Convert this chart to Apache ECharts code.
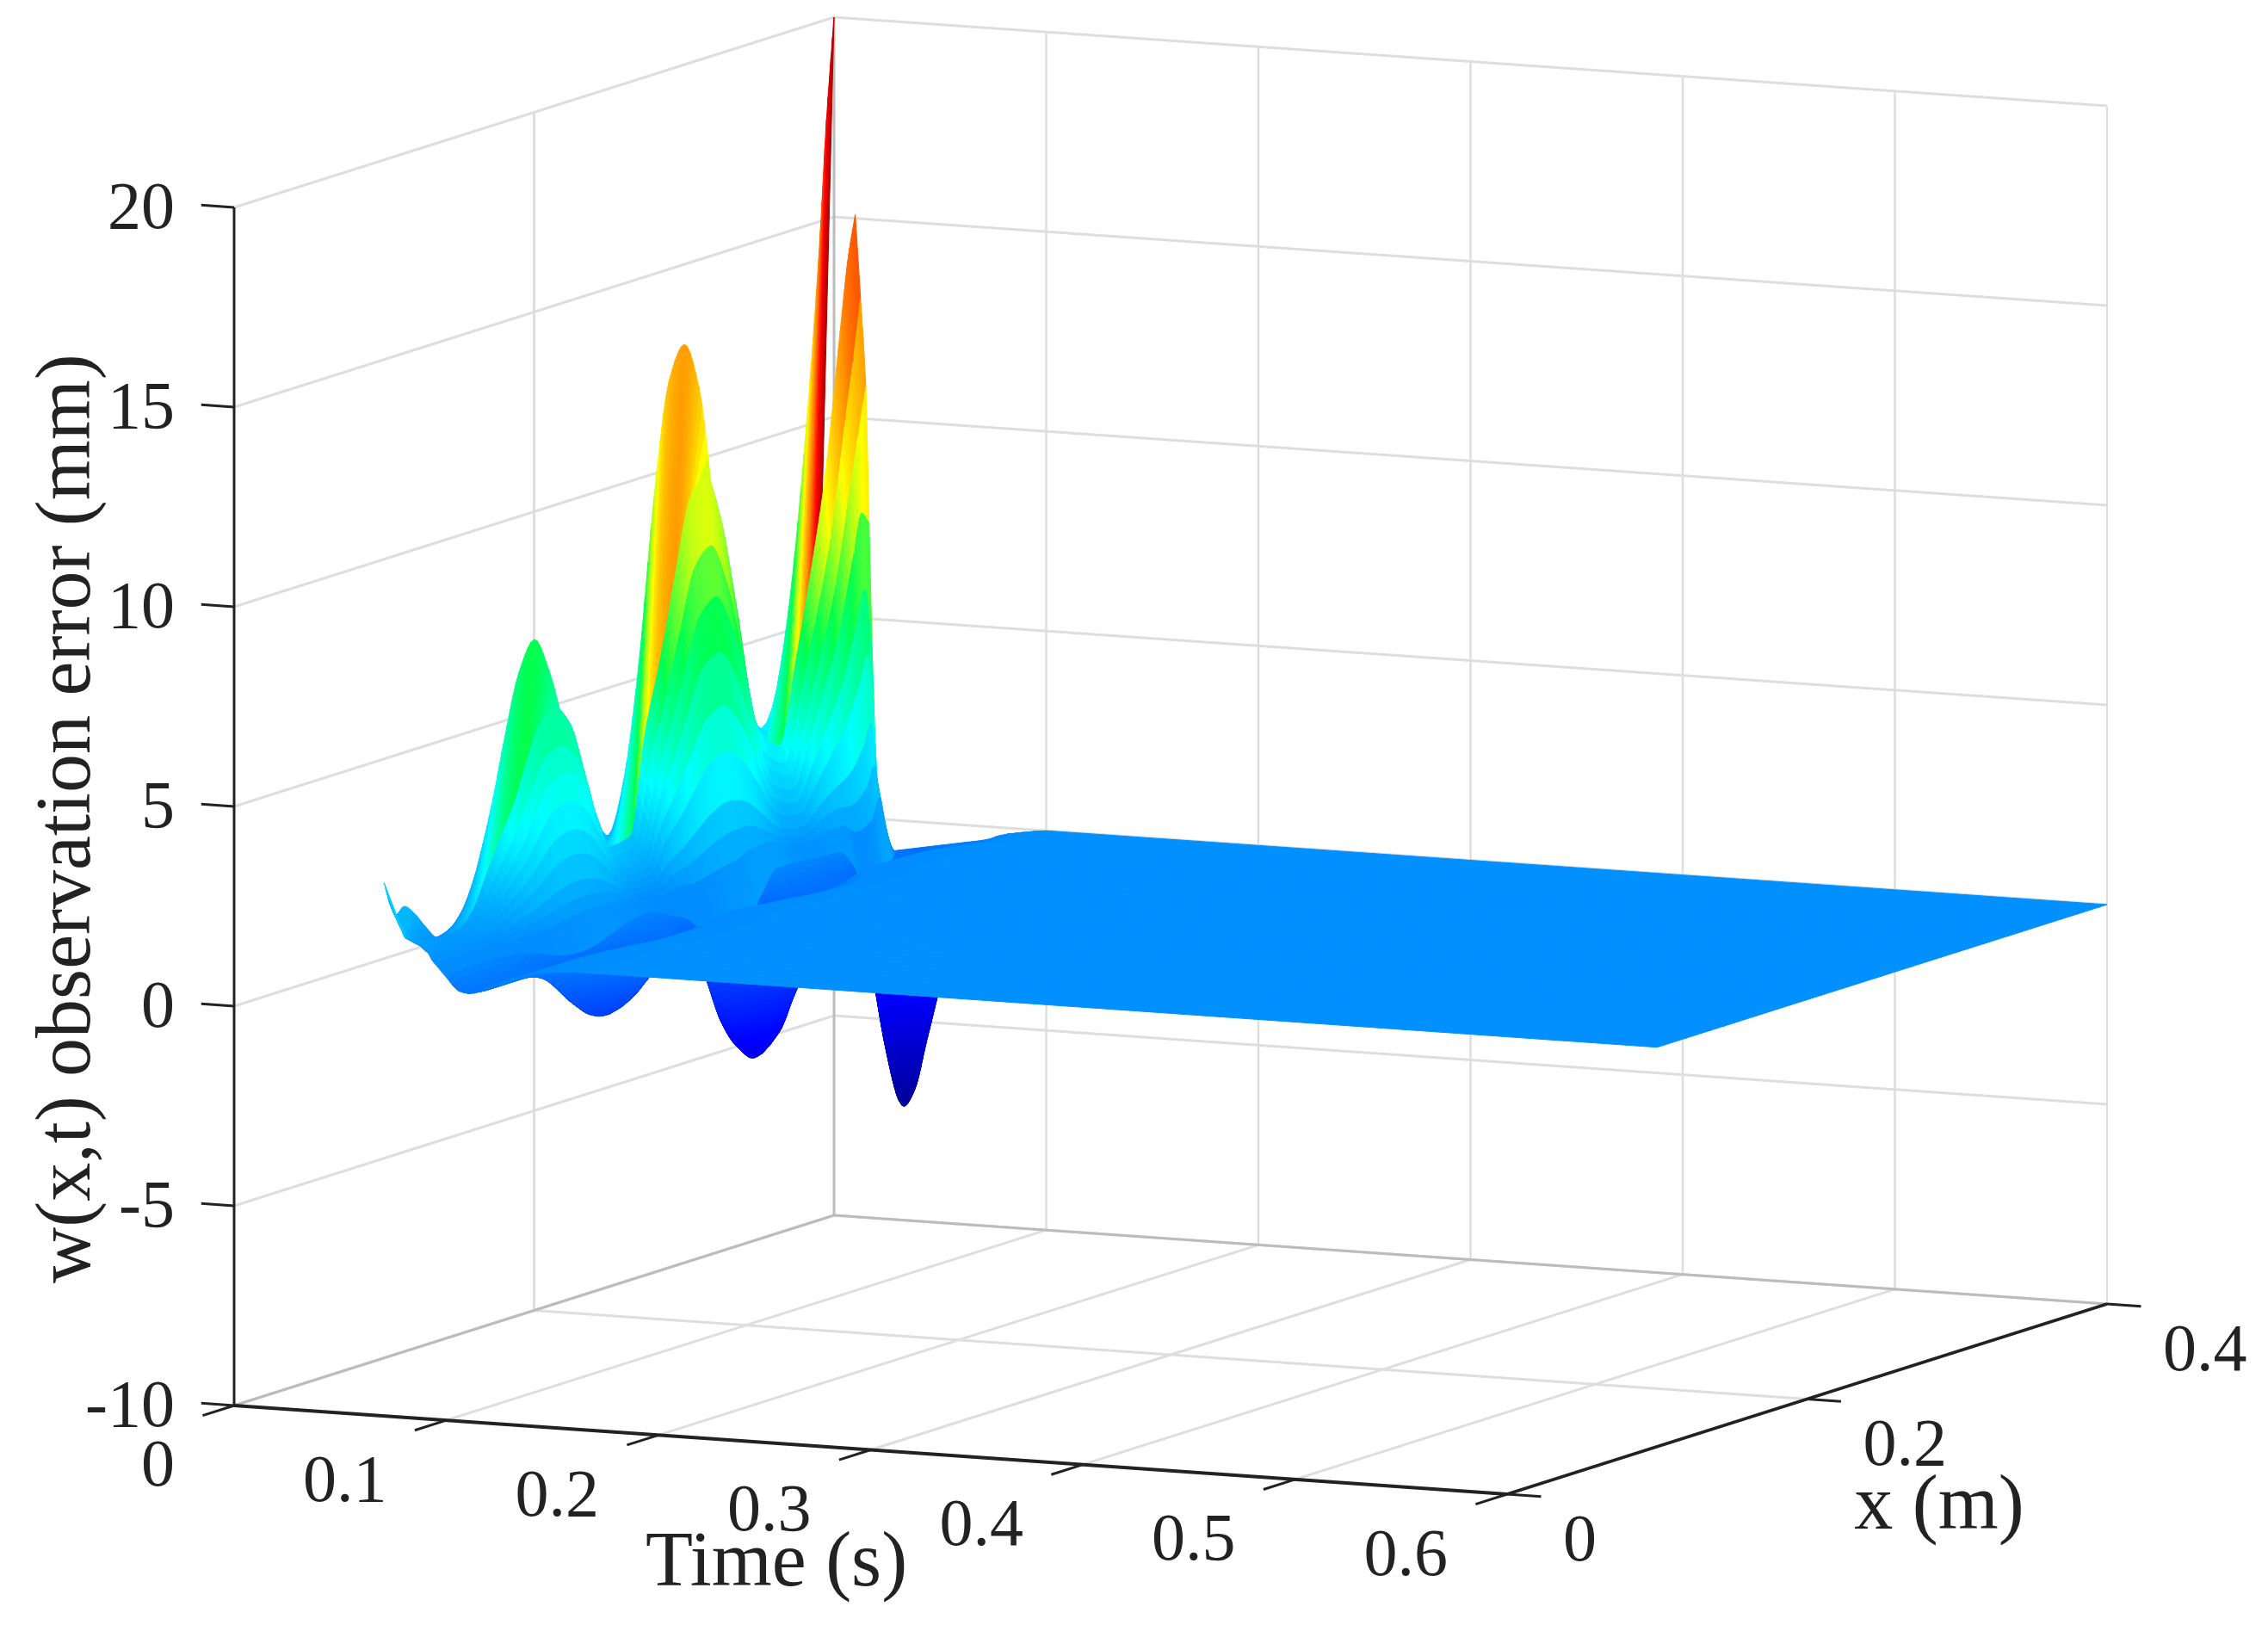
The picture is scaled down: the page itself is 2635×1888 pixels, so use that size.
<!DOCTYPE html>
<html><head><meta charset="utf-8">
<style>html,body{margin:0;padding:0;background:#fff}#c{width:2635px;height:1888px}</style>
<script src="https://cdn.jsdelivr.net/npm/echarts@6/dist/echarts.min.js"></script>
</head><body><div id="c"></div>
<script>
// ---- values ----
const tTicks = [0, 0.1, 0.2, 0.3, 0.4, 0.5, 0.6];
const xTicks = [0, 0.2, 0.4];
const zTicks = [-10, -5, 0, 5, 10, 15, 20];
const tTickLabels = ['0', '0.1', '0.2', '0.3', '0.4', '0.5', '0.6'];
const xTickLabels = ['0', '0.2', '0.4'];
const zTickLabels = ['-10', '-5', '0', '5', '10', '15', '20'];
const tGrid = [.01,.0125,.015,.0165,.018,.0195,.021,.0225,.025,.03,.035,.04,.045,.05,.055,.06,.07,.08,.09,.1,.6];
const xGrid = [.1,.104,.108,.113,.12,.128,.136,.145,.153,.16,.166,.173,.18,.19,.2,.21,.22,.235,.25,.26,.27,.28,.29,.3,.31,.32,.335,.35,.36,.37,.38,.39,.395,.4];
// w(x, t = 0) in mm, one value per xGrid entry
const wInitial = [1.9,1.3,1,1.15,.9,.45,.1,.25,.65,1.3,2.1,3.2,4.5,6.1,6.8,5.9,4.4,2.3,1.2,2.6,5.4,9.4,12.2,13,11.8,8.6,4.2,2,3.3,5.6,9.3,14.2,17.5,20];
// w(x,t) in mm: one row per xGrid entry, one column per tGrid entry
const wRows = [
[.55,.5,.45,.4,.35,.3,.2,.05,-.1,-.4,-.68,-.73,-.66,-.5,-.38,-.28,-.12,-.04,-.01,0,0],
[.45,.37,.31,.25,.17,.11,.04,-.01,-.07,-.28,-.56,-.72,-.68,-.56,-.45,-.32,-.11,-.03,-.01,0,0],
[.4,.33,.28,.22,.15,.1,.03,-.02,-.08,-.29,-.56,-.72,-.68,-.56,-.45,-.32,-.11,-.03,-.01,0,0],
[.35,.29,.24,.19,.13,.08,.02,-.03,-.08,-.29,-.56,-.72,-.68,-.56,-.45,-.32,-.11,-.03,-.01,0,0],
[.3,.25,.21,.17,.11,.06,.01,-.03,-.09,-.29,-.56,-.72,-.68,-.56,-.45,-.32,-.11,-.03,-.01,0,0],
[.3,.25,.21,.17,.11,.06,.01,-.03,-.09,-.29,-.56,-.72,-.68,-.56,-.45,-.32,-.11,-.03,-.01,0,0],
[.35,.29,.24,.19,.13,.08,.02,-.03,-.09,-.3,-.59,-.75,-.71,-.59,-.47,-.34,-.11,-.03,-.01,0,0],
[.7,.57,.48,.39,.28,.18,.08,.01,-.07,-.33,-.66,-.85,-.8,-.66,-.53,-.38,-.13,-.03,-.01,0,0],
[1.4,1.15,.97,.77,.57,.39,.2,.08,-.04,-.39,-.82,-1.05,-.99,-.82,-.65,-.47,-.16,-.04,-.01,0,0],
[2,1.64,1.38,1.1,.81,.57,.3,.13,-.04,-.49,-1.05,-1.35,-1.27,-1.05,-.84,-.61,-.2,-.05,-.01,0,0],
[2.5,2.05,1.73,1.38,1.02,.71,.37,.16,-.04,-.59,-1.29,-1.65,-1.55,-1.29,-1.02,-.74,-.25,-.07,-.02,0,0],
[3.1,2.54,2.14,1.71,1.26,.88,.47,.21,-.03,-.69,-1.52,-1.95,-1.83,-1.52,-1.21,-.88,-.29,-.08,-.02,0,0],
[3.9,3.2,2.69,2.15,1.59,1.12,.61,.29,0,-.77,-1.72,-2.2,-2.07,-1.72,-1.36,-.99,-.33,-.09,-.02,0,0],
[4.85,3.98,3.35,2.67,1.99,1.41,.78,.39,.06,-.79,-1.83,-2.35,-2.21,-1.83,-1.46,-1.06,-.35,-.09,-.02,0,0],
[5.1,4.18,3.52,2.81,2.1,1.49,.84,.44,.11,-.72,-1.72,-2.2,-2.07,-1.72,-1.36,-.99,-.33,-.09,-.02,0,0],
[4.6,3.77,3.17,2.53,1.9,1.35,.77,.42,.13,-.57,-1.4,-1.8,-1.69,-1.4,-1.12,-.81,-.27,-.07,-.02,0,0],
[3.2,2.62,2.21,1.76,1.32,.94,.53,.29,.08,-.42,-1.01,-1.3,-1.22,-1.01,-.81,-.59,-.2,-.05,-.01,0,0],
[1.2,.98,.83,.66,.49,.35,.2,.09,0,-.33,-.7,-.9,-.85,-.7,-.56,-.41,-.14,-.04,-.01,0,0],
[1.3,1.07,.9,.72,.52,.34,.16,.03,-.12,-.62,-1.25,-1.6,-1.5,-1.25,-.99,-.72,-.24,-.06,-.02,0,0],
[3.8,3.12,2.62,2.09,1.55,1.09,.58,.25,-.03,-.82,-1.79,-2.3,-2.16,-1.79,-1.43,-1.04,-.35,-.09,-.02,0,0],
[5.5,4.51,3.8,3.03,2.24,1.56,.82,.36,-.07,-1.27,-2.77,-3.55,-3.34,-2.77,-2.2,-1.6,-.53,-.14,-.04,0,0],
[7.5,6.15,5.18,4.13,3.07,2.16,1.17,.55,0,-1.49,-3.32,-4.25,-4,-3.32,-2.64,-1.91,-.64,-.17,-.04,0,0],
[9.3,7.63,6.42,5.12,3.81,2.7,1.49,.75,.1,-1.56,-3.59,-4.6,-4.32,-3.59,-2.85,-2.07,-.69,-.18,-.05,0,0],
[9.75,8,6.73,5.36,4.02,2.87,1.63,.88,.19,-1.42,-3.35,-4.3,-4.04,-3.35,-2.67,-1.94,-.65,-.17,-.04,0,0],
[8.6,7.05,5.93,4.73,3.57,2.57,1.52,.89,.35,-.75,-2.03,-2.6,-2.44,-2.03,-1.61,-1.17,-.39,-.1,-.03,0,0],
[6.4,5.25,4.42,3.52,2.67,1.94,1.16,.71,.38,-.24,-.94,-1.2,-1.13,-.94,-.74,-.54,-.18,-.05,-.01,0,0],
[3,2.46,2.07,1.65,1.24,.89,.52,.3,.13,-.26,-.7,-.9,-.85,-.7,-.56,-.41,-.14,-.04,-.01,0,0],
[2.4,1.97,1.66,1.32,.99,.7,.4,.21,.06,-.32,-.78,-1,-.94,-.78,-.62,-.45,-.15,-.04,-.01,0,0],
[4.3,3.53,2.97,2.37,1.78,1.29,.77,.47,.2,-.33,-.94,-1.2,-1.13,-.94,-.74,-.54,-.18,-.05,-.01,0,0],
[6.4,5.25,4.42,3.52,2.64,1.89,1.08,.6,.19,-.76,-1.87,-2.4,-2.26,-1.87,-1.49,-1.08,-.36,-.1,-.02,0,0],
[8.8,7.22,6.07,4.84,3.58,2.51,1.32,.58,-.08,-2,-4.37,-5.6,-5.26,-4.37,-3.47,-2.52,-.84,-.22,-.06,0,0],
[12.3,10.09,8.49,6.77,5.03,3.53,1.91,.9,.1,-2.45,-5.46,-7,-6.58,-5.46,-4.34,-3.15,-1.05,-.28,-.07,0,0],
[14,11.48,9.66,7.7,5.8,4.18,2.45,1.42,.62,-1.12,-3.12,-4,-3.76,-3.12,-2.48,-1.8,-.6,-.16,-.04,0,0],
[15.1,13,10.8,7.4,4.2,1.8,.4,-.83,-.8,-.75,-.7,-.65,-.6,-.55,-.5,-.45,-.35,-.2,-.08,0,0]
];
const colorMin = -7.6, colorMax = 21;
const colorStops = [[0,0,0,128],[.125,0,0,255],[.375,0,255,255],[.5,0,255,80],[.625,255,255,0],[.875,255,0,0],[1,128,0,0]];
const lobes = [[.15, .25], [.25, .34], [.34, .4]];
const firstStripShear = .022;
const bandEnd = .0255, bandBlend = .45, bandTaper = .02;

// ---- view of the 3-D box on the page ----
function project(t, x, z) {
  return [272 + 2465 * t + 1742.5 * x, 1633 + 171.7 * t - 552.5 * x - 46.4 * (z + 10)];
}
function jet(v) {
  const f = Math.max(0, Math.min(1, (v - colorMin) / (colorMax - colorMin)));
  let k = 0;
  while (k < colorStops.length - 2 && f > colorStops[k + 1][0]) k++;
  const a = colorStops[k], b = colorStops[k + 1], s = (f - a[0]) / (b[0] - a[0]);
  return 'rgb(' + [1, 2, 3].map(n => Math.round(a[n] + (b[n] - a[n]) * s)).join(',') + ')';
}
// monotone curve through a table, like a line series with smooth monotone
function slope(xs, ys, k) {
  if (k <= 0) return (ys[1] - ys[0]) / (xs[1] - xs[0]);
  const n = xs.length - 1;
  if (k >= n) return (ys[n] - ys[n - 1]) / (xs[n] - xs[n - 1]);
  const d0 = (ys[k] - ys[k - 1]) / (xs[k] - xs[k - 1]), d1 = (ys[k + 1] - ys[k]) / (xs[k + 1] - xs[k]);
  return d0 * d1 <= 0 ? 0 : 2 * d0 * d1 / (d0 + d1);
}
function findCell(xs, x) { let k = 0; while (k < xs.length - 2 && x > xs[k + 1]) k++; return k; }
function curve(xs, ys, x, kIn) {
  const k = kIn === undefined ? findCell(xs, x) : kIn;
  const h = xs[k + 1] - xs[k], s = (x - xs[k]) / h;
  const m0 = slope(xs, ys, k) * h, m1 = slope(xs, ys, k + 1) * h;
  const s2 = s * s, s3 = s2 * s;
  return (2 * s3 - 3 * s2 + 1) * ys[k] + (s3 - 2 * s2 + s) * m0 + (-2 * s3 + 3 * s2) * ys[k + 1] + (s3 - s2) * m1;
}
function surfaceAt(x, t) {
  const kT = findCell(tGrid, t), kX = findCell(xGrid, x);
  const lo = Math.max(0, kX - 1), hi = Math.min(xGrid.length - 1, kX + 2);
  const xs = [], ys = [];
  for (let r = lo; r <= hi; r++) { xs.push(xGrid[r]); ys.push(curve(tGrid, wRows[r], t, kT)); }
  return curve(xs, ys, x, kX - lo);
}
function shade(x, t, j) {
  if (tGrid[j] < bandEnd) {
    const z = surfaceAt(x, tGrid[j]);
    for (const l of lobes) if (x >= l[0] && x <= l[1]) {
      let top = -Infinity;
      xGrid.forEach((g, r) => { if (g >= l[0] && g <= l[1]) top = Math.max(top, wRows[r][j]); });
      const edge = l[1] === .4 ? x - l[0] : Math.min(x - l[0], l[1] - x);
      if (top > 0 && z > 0) { const a = bandBlend * Math.min(1, edge / bandTaper) * z / top; return (1 - a) * z + a * top; }
    }
    return z;
  }
  return surfaceAt(x, t);
}

const GRID = '#dedede', EDGE = '#bcbcbc', INK = '#222222';
const frame = [];
const seg = (a, b, color, width) => frame.push({a, b, color, width});
zTicks.forEach(z => {
  seg([0, 0, z], [0, .4, z], GRID, 3);
  seg([0, .4, z], [.6, .4, z], GRID, 3);
});
tTicks.forEach(t => {
  if (t > 0) seg([t, .4, -10], [t, .4, 20], GRID, t === .6 ? 2 : 2.5);
  if (t > 0) seg([t, 0, -10], [t, .4, -10], GRID, 3);
});
seg([0, .2, -10], [0, .2, 20], GRID, 3);
seg([0, .2, -10], [.6, .2, -10], GRID, 3);
seg([0, .4, -10], [0, .4, 20], EDGE, 3);
seg([0, 0, -10], [0, .4, -10], EDGE, 3);
seg([0, .4, -10], [.6, .4, -10], EDGE, 3);
const axes = [];
const ink = (a, b, width) => axes.push({a, b, color: INK, width});
ink([0, 0, -10], [0, 0, 20], 3);
ink([0, 0, -10], [.6, 0, -10], 4);
ink([.6, 0, -10], [.6, .4, -10], 3.5);
zTicks.forEach(z => ink([0, 0, z], [-.0155, 0, z], 3));
tTicks.forEach(t => ink([t, 0, -10], [t, -.021, -10], 3));
xTicks.forEach(x => ink([.6, x, -10], [.616, x, -10], 3));

const FONT = '78px "Liberation Serif"', TITLE = '90px "Liberation Serif"';
const texts = [];
zTicks.forEach((z, i) => { const p = project(0, 0, z); texts.push({p: [203, p[1] + 4], s: zTickLabels[i], align: 'right', font: FONT}); });
tTicks.forEach((t, i) => { const p = project(t, 0, -10); texts.push({p: [p[0] - 69, p[1] + 73], s: tTickLabels[i], align: 'right', font: FONT}); });
xTicks.forEach((x, i) => { const p = project(.6, x, -10); texts.push({p: [p[0] + 65, p[1] + 56], s: xTickLabels[i], align: 'left', font: FONT}); });
texts.push({p: [902, 1818], s: 'Time (s)', align: 'center', font: TITLE});
texts.push({p: [2253, 1752], s: 'x (m)', align: 'center', font: TITLE});
texts.push({p: [80, 951], s: 'w(x,t) observation error (mm)', align: 'center', font: TITLE, rot: Math.PI / 2});

// far cells first: the t = 0 strip, then large x, then small t
const cells = [];
for (let i = xGrid.length - 2; i >= 0; i--) cells.push([i, -1]);
for (let i = xGrid.length - 2; i >= 0; i--) for (let j = 0; j < tGrid.length - 1; j++) cells.push([i, j]);

function poly(api, corners, col) {
  return {type: 'polygon', shape: {points: corners.map(c => api.coord(project(c[0], c[1], c[2])))}, style: {fill: col, stroke: col, lineWidth: 1}};
}
function renderCell(params, api) {
  const i = api.value(0), j = api.value(1);
  const x0 = xGrid[i], x1 = xGrid[i + 1];
  const children = [];
  if (j < 0) {
    const n = 5, t1 = tGrid[0];
    const top = x => curve(xGrid, wInitial, x);
    const low = x => { const s = Math.max(xGrid[0], x - firstStripShear); return [t1, s, surfaceAt(s, t1)]; };
    for (let a = n - 1; a >= 0; a--) {
      const xa = x0 + (x1 - x0) * a / n, xb = x0 + (x1 - x0) * (a + 1) / n;
      children.push(poly(api, [[0, xa, top(xa)], [0, xb, top(xb)], low(xb), low(xa)], jet(top((xa + xb) / 2))));
    }
    return {type: 'group', children};
  }
  const t0 = tGrid[j], t1 = tGrid[j + 1];
  const vals = [wRows[i][j], wRows[i][j + 1], wRows[i + 1][j], wRows[i + 1][j + 1]];
  const range = Math.max(...vals) - Math.min(...vals);
  if (range === 0) {
    return {type: 'group', children: [poly(api, [[t0, x0, vals[0]], [t1, x0, vals[1]], [t1, x1, vals[3]], [t0, x1, vals[2]]], jet(vals[0]))]};
  }
  const nx = Math.max(2, Math.min(8, Math.ceil(range / 0.25)));
  const nt = t0 < bandEnd ? 2 : Math.max(2, Math.min(6, Math.ceil(range / 0.2)));
  for (let a = nx - 1; a >= 0; a--) for (let b = 0; b < nt; b++) {
    const xa = x0 + (x1 - x0) * a / nx, xb = x0 + (x1 - x0) * (a + 1) / nx;
    const ta = t0 + (t1 - t0) * b / nt, tb = t0 + (t1 - t0) * (b + 1) / nt;
    const col = jet(shade((xa + xb) / 2, (ta + tb) / 2, j));
    children.push(poly(api, [[ta, xa, surfaceAt(xa, ta)], [tb, xa, surfaceAt(xa, tb)], [tb, xb, surfaceAt(xb, tb)], [ta, xb, surfaceAt(xb, ta)]], col));
  }
  return {type: 'group', children};
}
function renderSeg(list) {
  return (params, api) => {
    const s = list[api.value(0)];
    const p = api.coord(project(...s.a)), q = api.coord(project(...s.b));
    return {type: 'line', shape: {x1: p[0], y1: p[1], x2: q[0], y2: q[1]}, style: {stroke: s.color, lineWidth: s.width, lineCap: 'butt'}};
  };
}
function renderText(params, api) {
  const s = texts[api.value(0)];
  const p = api.coord(s.p);
  return {type: 'text', x: p[0], y: p[1], rotation: s.rot || 0,
    style: {text: s.s, fill: INK, font: s.font, textAlign: s.align, textVerticalAlign: 'middle', verticalAlign: 'middle'}};
}
const chart = echarts.init(document.getElementById('c'), null, {renderer: 'canvas', width: 2635, height: 1888});
const hidden = {show: false, type: 'value'};
chart.setOption({
  animation: false,
  backgroundColor: '#ffffff',
  grid: {left: 0, right: 0, top: 0, bottom: 0},
  xAxis: Object.assign({min: 0, max: 2635}, hidden),
  yAxis: Object.assign({min: 0, max: 1888, inverse: true}, hidden),
  series: [
    {type: 'custom', z: 1, clip: false, silent: true, progressive: 0, renderItem: renderSeg(frame), encode: {x: 0, y: 0}, data: frame.map((_, i) => [i])},
    {type: 'custom', z: 2, clip: false, silent: true, progressive: 0, renderItem: renderCell, encode: {x: 0, y: 1}, data: cells},
    {type: 'custom', z: 3, clip: false, silent: true, progressive: 0, renderItem: renderSeg(axes), encode: {x: 0, y: 0}, data: axes.map((_, i) => [i])},
    {type: 'custom', z: 4, clip: false, silent: true, progressive: 0, renderItem: renderText, encode: {x: 0, y: 0}, data: texts.map((_, i) => [i])}
  ]
});
</script></body></html>
